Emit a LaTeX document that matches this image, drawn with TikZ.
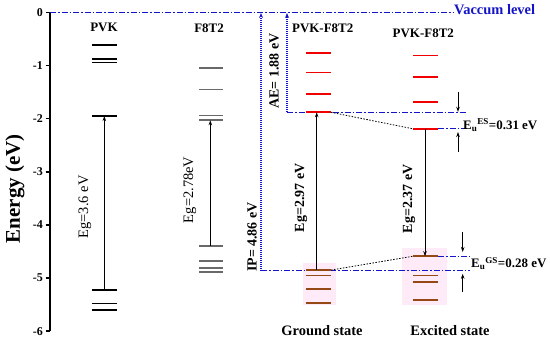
\documentclass[tikz,border=0pt]{standalone}
\usepackage{fontspec}
\setmainfont{Liberation Serif}
\usetikzlibrary{arrows.meta}
\definecolor{vblue}{RGB}{20,20,200}
\definecolor{lvred}{RGB}{240,0,0}
\definecolor{lvbrown}{RGB}{150,72,20}
\definecolor{lvgray}{RGB}{105,105,105}
\definecolor{hlpink}{RGB}{255,234,247}
\begin{document}
\begin{tikzpicture}[x=1bp,y=53.1bp,
  lvl/.style={line width=1.7bp},
  vac/.style={vblue, line width=1.4bp, dash pattern=on 6bp off 2bp on 1.5bp off 2bp},
  vdot/.style={vblue, line width=1.2bp, dash pattern=on 1bp off 1bp, -{Stealth[length=5bp,width=4bp]}},
  bdot/.style={black, line width=0.8bp, dash pattern=on 1.5bp off 1.5bp},
  arr/.style={black, line width=0.8bp, -{Stealth[length=5bp,width=3.5bp]}},
  lab/.style={font=\bfseries\fontsize{13}{15}\selectfont, inner sep=0},
  big/.style={font=\bfseries\fontsize{14.5}{17}\selectfont, inner sep=0},
  rlab/.style={font=\bfseries\fontsize{14}{16}\selectfont, inner sep=0, rotate=90},
  rlabn/.style={font=\fontsize{14.5}{16}\selectfont, inner sep=0, rotate=90},
  tick/.style={font=\bfseries\fontsize{12}{14}\selectfont, inner sep=0, anchor=east}
]
\useasboundingbox (0,0.2354) rectangle (550,-6.149);

% highlight boxes
\fill[hlpink] (303,-4.72) rectangle (336,-5.51);
\fill[hlpink] (402,-4.44) rectangle (447,-5.51);

% axis
\draw[line width=1.6bp] (50,0) -- (50,-6);
\foreach \t in {0,-1,-2,-3,-4,-5,-6}{
  \draw[line width=1.4bp] (45.5,\t) -- (50,\t);
  \node[tick] at (43,\t) {\t};
}
\node[font=\bfseries\fontsize{21}{24}\selectfont, rotate=90, inner sep=0] (ylab) at (15,-3.32) {Energy (eV)};

% vacuum level
\coordinate (vacL) at (50,0);
\coordinate (vacR) at (453,0);
\draw[vac] (vacL) -- (vacR);
\node[font=\bfseries\fontsize{14.5}{17}\selectfont, text=vblue, inner sep=0, anchor=west] (vaclab) at (454,0.06) {Vaccum level};

% PVK
\node[lab] (pvk) at (104,-0.286) {PVK};
\foreach \e in {-0.61,-0.88,-0.94,-1.95,-5.23,-5.48}
  \draw[lvl] (92,\e) -- (117,\e);
\draw[line width=2.4bp] (92,-5.60) -- (117,-5.60);
\coordinate (pvkL) at (104.3,-5.23);
\coordinate (pvkH) at (104.3,-1.95);
\draw[arr] (pvkL) -- (pvkH);
\node[rlabn] (egpvk) at (85,-3.66) {Eg=3.6 eV};

% F8T2
\node[lab] (f8) at (209,-0.29) {F8T2};
\foreach \e in {-1.05,-1.45,-1.94,-2.03,-4.40,-4.68,-4.81,-4.89}
  \draw[lvl, lvgray] (199,\e) -- (223,\e);
\coordinate (f8L) at (210.3,-4.40);
\coordinate (f8H) at (210.3,-2.03);
\draw[arr] (f8L) -- (f8H);
\node[rlabn] (egf8) at (190,-3.34) {Eg=2.78eV};

% blue dash-dot reference lines
\coordinate (aeL) at (287,-1.88);
\coordinate (aeR) at (467,-1.88);
\coordinate (esL) at (438,-2.19);
\coordinate (esR) at (467,-2.19);
\coordinate (ipL) at (261,-4.86);
\coordinate (ipR) at (470,-4.86);
\coordinate (gsL) at (438,-4.59);
\coordinate (gsR) at (470,-4.59);
\draw[vac] (aeL) -- (aeR);
\draw[vac] (esL) -- (esR);
\draw[vac] (ipL) -- (ipR);
\draw[vac] (gsL) -- (gsR);

% vertical dotted arrows (AE, IP)
\coordinate (ipT) at (261,-0.01);
\coordinate (aeT) at (287,-0.01);
\draw[vdot] (ipL) -- (ipT);
\draw[vdot] (aeL) -- (aeT);
\node[rlab] (ae) at (274,-1.10) {AE= 1.88 eV};
\node[rlab] (ip) at (252,-4.23) {IP= 4.86 eV};

% Ground state PVK-F8T2
\node[lab] (pf1) at (322.7,-0.29) {PVK-F8T2};
\foreach \e in {-0.76,-1.13,-1.53,-1.88}
  \draw[lvl, lvred] (306,\e) -- (331,\e);
\foreach \e in {-4.85,-4.95,-5.21,-5.47}
  \draw[lvl, lvbrown] (306,\e) -- (331,\e);
\coordinate (gL) at (316.7,-4.85);
\coordinate (gH) at (316.7,-1.88);
\draw[arr] (gL) -- (gH);
\node[rlab] (eg1) at (301,-3.49) {Eg=2.97 eV};

% Excited state PVK-F8T2
\node[lab] (pf2) at (423.3,-0.386) {PVK-F8T2};
\foreach \e in {-0.81,-1.22,-1.69,-2.19}
  \draw[lvl, lvred] (413,\e) -- (438,\e);
\foreach \e in {-4.59,-4.95,-5.08,-5.42}
  \draw[lvl, lvbrown] (413,\e) -- (438,\e);
\coordinate (xH) at (425,-2.19);
\coordinate (xL) at (425,-4.59);
\draw[arr] (xH) -- (xL);
\node[rlab] (eg2) at (409,-3.51) {Eg=2.37 eV};

% dotted connectors
\coordinate (g1) at (331,-1.88);
\coordinate (x1) at (413,-2.19);
\coordinate (g2) at (331,-4.85);
\coordinate (x2) at (413,-4.59);
\draw[bdot] (g1) -- (x1);
\draw[bdot] (g2) -- (x2);

% offset arrows ES
\coordinate (esA1) at (458,-1.50);
\coordinate (esA2) at (458,-1.87);
\coordinate (esB1) at (458,-2.63);
\coordinate (esB2) at (458,-2.25);
\draw[arr] (esA1) -- (esA2);
\draw[arr] (esB1) -- (esB2);
\node[lab, anchor=west] (esl) at (463,-2.12) {E\textsubscript{u}\textsuperscript{ES}=0.31 eV};

% offset arrows GS
\coordinate (gsA1) at (462.7,-4.13);
\coordinate (gsA2) at (462.7,-4.51);
\coordinate (gsB1) at (462.7,-5.26);
\coordinate (gsB2) at (462.7,-4.92);
\draw[arr] (gsA1) -- (gsA2);
\draw[arr] (gsB1) -- (gsB2);
\node[lab, anchor=west] (gsl) at (471,-4.72) {E\textsubscript{u}\textsuperscript{GS}=0.28 eV};

% bottom labels
\node[big] (gst) at (322,-5.999) {Ground state};
\node[big] (xst) at (450,-5.999) {Excited state};
\end{tikzpicture}
\end{document}
